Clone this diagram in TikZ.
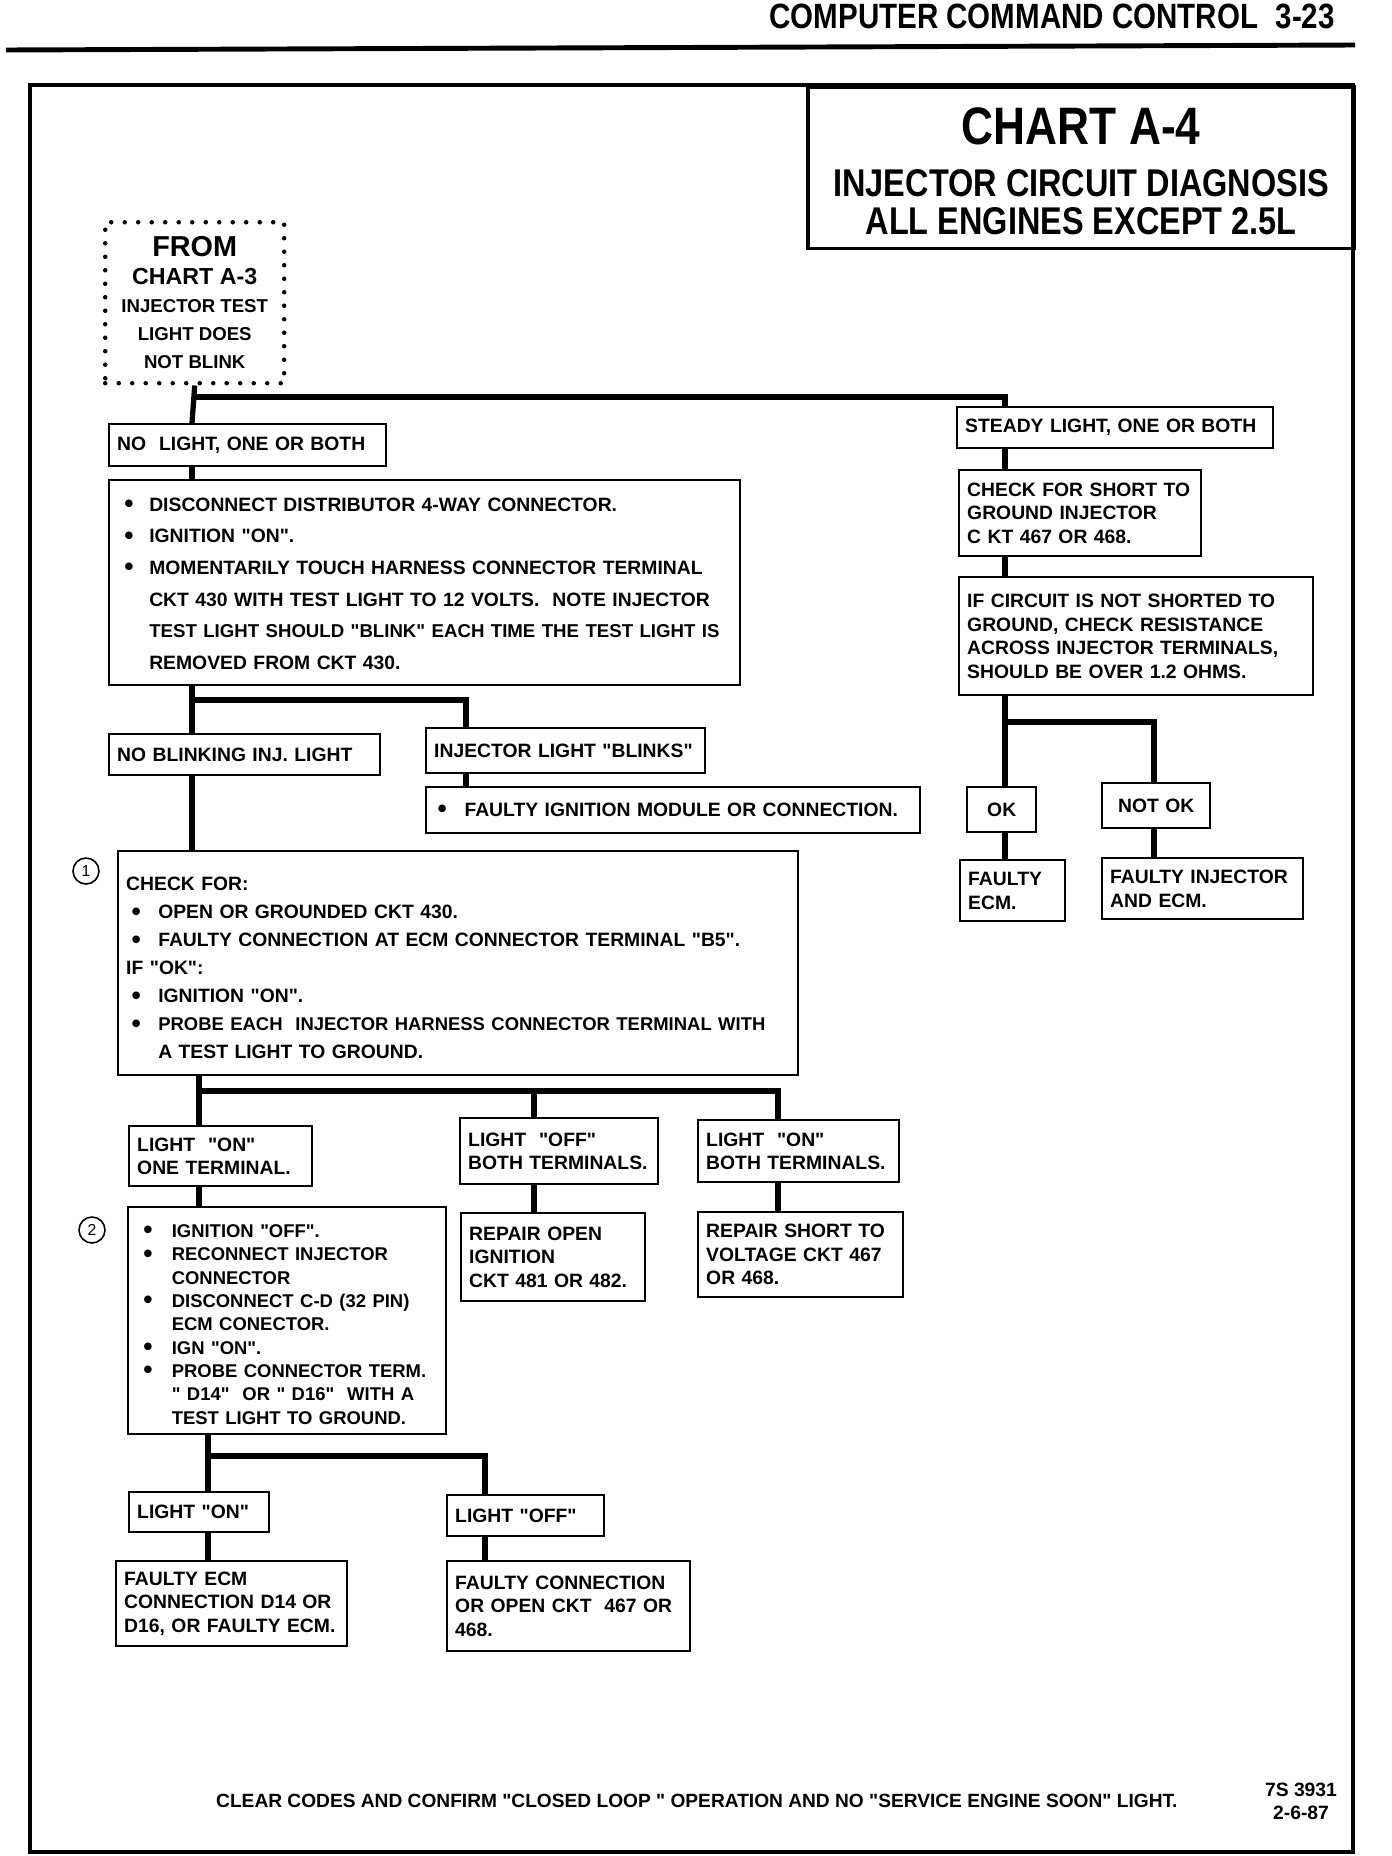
\documentclass[tikz,border=0pt]{standalone}
\usepackage{fontspec}
\setmainfont{Liberation Sans}
\newfontfamily\chartfont{Liberation Sans}
\newfontfamily\condfont{Liberation Sans}[FakeStretch=0.84]
\usepackage{array}
\usetikzlibrary{calc}
\newcommand{\boxfont}{\chartfont\bfseries\fontsize{11}{13.4}\selectfont}
\newcommand{\bul}{\raisebox{-0.12ex}{\fontsize{15}{15}\selectfont\textbullet}}

\begin{document}
\begin{tikzpicture}[x=0.02cm, y=-0.02cm,
  chartbox/.style={draw, line width=1.4pt, anchor=north west,
    inner xsep=0.16cm, inner ysep=0.06cm, align=left, font=\boxfont},
  flow/.style={line width=3pt},
  stepmark/.style={circle, draw, line width=0.9pt, inner sep=0pt,
    minimum size=0.52cm, font=\fontsize{9}{9}\selectfont}]

  \useasboundingbox (0,0) rectangle (1392,1856);

  %% --- Page header and frame ---
  \node[anchor=base east, font=\condfont\bfseries\fontsize{20}{20}\selectfont]
    (header) at (1341,28) {COMPUTER COMMAND CONTROL\hspace{0.5em}3-23};
  \draw[line width=2.8pt] (6,50) -- (1355,45);
  \draw[line width=2pt] (30,85) rectangle (1353,1852);

  %% --- Title block ---
  \node[draw, line width=2pt, anchor=north west, inner sep=0pt,
        minimum width=10.94cm, minimum height=3.24cm] (title) at (806,85)
    {\condfont\bfseries\fontsize{22}{21}\selectfont
     \begin{tabular}{@{}c@{}}
       \rule{0pt}{31pt}{\fontsize{30}{30}\selectfont CHART A-4}\\[7.5pt]
       INJECTOR CIRCUIT DIAGNOSIS\\
       ALL ENGINES EXCEPT 2.5L
     \end{tabular}};

  %% --- Entry point ---
  \node[draw, dash pattern=on 0pt off 0.27cm, line cap=round, line width=0.09cm,
        anchor=north west, inner sep=0pt,
        minimum width=3.58cm, minimum height=3.22cm] (from) at (103,220)
    {\chartfont\bfseries\fontsize{10.6}{16}\selectfont
     \begin{tabular}{@{}c@{}}
       \rule{0pt}{16pt}{\fontsize{16.4}{16}\selectfont FROM}\\
       {\fontsize{13.2}{16}\selectfont CHART A-3}\\
       INJECTOR TEST\\
       LIGHT DOES\\
       NOT BLINK
     \end{tabular}};

  %% --- Left branch ---
  \node[chartbox, text width=5.22cm, minimum height=0.84cm] (nolight) at (108,423)
    {NO\ \ LIGHT, ONE OR BOTH};
  \node[chartbox, text width=12.30cm, minimum height=4.10cm] (disc) at (108,479)
    {\renewcommand{\arraystretch}{1.34}%
     \begin{tabular}{@{\hspace{4pt}}l@{\hspace{9pt}}l@{}}
       \rule{0pt}{14pt}\bul & DISCONNECT DISTRIBUTOR 4-WAY CONNECTOR.\\
       \bul & IGNITION "ON".\\
       \bul & MOMENTARILY TOUCH HARNESS CONNECTOR TERMINAL\\
            & CKT 430 WITH TEST LIGHT TO 12 VOLTS.\ \ NOTE INJECTOR\\
            & {\fontsize{10.6}{13.4}\selectfont TEST LIGHT SHOULD "BLINK" EACH TIME THE TEST LIGHT IS}\\
            & REMOVED FROM CKT 430.
     \end{tabular}};
  \node[chartbox, text width=5.10cm, minimum height=0.82cm] (noblink) at (108,733)
    {NO BLINKING INJ. LIGHT};
  \node[chartbox, text width=5.26cm, minimum height=0.90cm] (injblink) at (425,727)
    {INJECTOR LIGHT "BLINKS"};
  \node[chartbox, text width=9.56cm, minimum height=0.92cm] (faultyign) at (425,786)
    {\hspace{2pt}\bul\hspace{10pt}FAULTY IGNITION MODULE OR CONNECTION.};

  \node[stepmark] (mark1) at (86,871) {1};
  \node[chartbox, text width=13.28cm, minimum height=4.48cm] (checkfor) at (117,850)
    {\renewcommand{\arraystretch}{1.19}%
     \begin{tabular}{@{\hspace{3pt}}l@{\hspace{10pt}}l@{}}
       \multicolumn{2}{@{}l}{\rule{0pt}{18pt}CHECK FOR:}\\
       \bul & OPEN OR GROUNDED CKT 430.\\
       \bul & FAULTY CONNECTION AT ECM CONNECTOR TERMINAL "B5".\\
       \multicolumn{2}{@{}l}{IF "OK":}\\
       \bul & IGNITION "ON".\\
       \bul & {\fontsize{10.5}{13.4}\selectfont PROBE EACH\ \ INJECTOR HARNESS CONNECTOR TERMINAL WITH}\\
            & A TEST LIGHT TO GROUND.
     \end{tabular}};

  \node[chartbox, text width=3.34cm, minimum height=1.20cm] (onone) at (128,1125)
    {LIGHT\ \ "ON"\\ONE TERMINAL.};
  \node[chartbox, text width=3.64cm, minimum height=1.32cm] (offboth) at (459,1117)
    {LIGHT\ \ "OFF"\\BOTH TERMINALS.};
  \node[chartbox, text width=3.70cm, minimum height=1.24cm] (onboth) at (697,1119)
    {LIGHT\ \ "ON"\\BOTH TERMINALS.};
  \node[chartbox, text width=3.36cm, minimum height=1.76cm] (repopen) at (460,1212)
    {REPAIR OPEN\\IGNITION\\CKT 481 OR 482.};
  \node[chartbox, text width=3.78cm, minimum height=1.70cm] (repshort) at (697,1211)
    {REPAIR SHORT TO\\VOLTAGE CKT 467\\OR 468.};

  \node[stepmark] (mark2) at (92,1230) {2};
  \node[chartbox, text width=6.04cm, minimum height=4.54cm] (ignoff) at (127,1206)
    {\fontsize{10.5}{13.4}\selectfont\renewcommand{\arraystretch}{0.99}%
     \begin{tabular}{@{\hspace{4pt}}l@{\hspace{11pt}}l@{}}
       \rule{0pt}{15.5pt}\bul & IGNITION "OFF".\\
       \bul & RECONNECT INJECTOR\\
            & CONNECTOR\\
       \bul & DISCONNECT C-D (32 PIN)\\
            & ECM CONECTOR.\\
       \bul & IGN "ON".\\
       \bul & PROBE CONNECTOR TERM.\\
            & " D14"\ \ OR " D16"\ \ WITH A\\
            & TEST LIGHT TO GROUND.
     \end{tabular}};

  \node[chartbox, text width=2.48cm, minimum height=0.80cm] (lighton) at (128,1491)
    {LIGHT "ON"};
  \node[chartbox, text width=2.82cm, minimum height=0.82cm] (lightoff) at (446,1494)
    {LIGHT "OFF"};
  \node[chartbox, text width=4.30cm, minimum height=1.70cm] (faultyecmb) at (115,1560)
    {FAULTY ECM\\CONNECTION D14 OR\\D16, OR FAULTY ECM.};
  \node[chartbox, text width=4.54cm, minimum height=1.80cm] (faultycon) at (446,1560)
    {FAULTY CONNECTION\\OR OPEN CKT\ \ 467 OR\\468.};

  %% --- Right branch ---
  \node[chartbox, text width=6.00cm, minimum height=0.82cm] (steady) at (956,406)
    {STEADY LIGHT, ONE OR BOTH};
  \node[chartbox, text width=4.52cm, minimum height=1.72cm] (shortgnd) at (958,469)
    {CHECK FOR SHORT TO\\GROUND INJECTOR\\C KT 467 OR 468.};
  \node[chartbox, text width=6.76cm, minimum height=2.36cm] (ifcircuit) at (958,576)
    {IF CIRCUIT IS NOT SHORTED TO\\GROUND, CHECK RESISTANCE\\ACROSS INJECTOR TERMINALS,\\SHOULD BE OVER 1.2 OHMS.};
  \node[chartbox, align=center, text width=1.06cm, minimum height=0.90cm] (ok) at (966,786)
    {OK};
  \node[chartbox, align=center, text width=1.84cm, minimum height=0.90cm] (notok) at (1101,782)
    {NOT OK};
  \node[chartbox, text width=1.78cm, minimum height=1.22cm] (faultyecm) at (959,859)
    {FAULTY\\ECM.};
  \node[chartbox, text width=3.70cm, minimum height=1.22cm] (faultyinj) at (1101,857)
    {FAULTY INJECTOR\\AND ECM.};

  %% --- Footer ---
  \node[anchor=base west, font=\chartfont\bfseries\fontsize{10.9}{12}\selectfont]
    (footer) at (210,1807)
    {CLEAR CODES AND CONFIRM "CLOSED LOOP " OPERATION AND NO "SERVICE ENGINE SOON" LIGHT.};
  \node[anchor=base, font=\chartfont\bfseries\fontsize{11}{13}\selectfont]
    (figref) at (1301,1808)
    {\begin{tabular}{@{}c@{}}7S 3931\\2-6-87\end{tabular}};

  %% --- Branch points ---
  \coordinate (trunkA) at (192,397);
  \coordinate (trunkR) at (1005,397);
  \coordinate (blinkx) at (466,700);
  \coordinate (trunkB) at (199,1091);
  \coordinate (midx) at (534,1091);
  \coordinate (rightx) at (778,1091);
  \coordinate (trunkC) at (208,1456);
  \coordinate (offx) at (485,1456);
  \coordinate (okx) at (1005,722);
  \coordinate (notokx) at (1154,722);

  %% --- Connectors, left side ---
  \draw[flow] (from.south) -- (trunkA |- nolight.north);
  \draw[flow] (trunkA) -| (trunkR |- steady.north);
  \draw[flow] (trunkA |- nolight.south) -- (trunkA |- disc.north);
  \draw[flow] (trunkA |- disc.south) -- (trunkA |- noblink.north);
  \draw[flow] (trunkA |- blinkx) -| (blinkx |- injblink.north);
  \draw[flow] (blinkx |- injblink.south) -- (blinkx |- faultyign.north);
  \draw[flow] (trunkA |- noblink.south) -- (trunkA |- checkfor.north);
  \draw[flow] (trunkB |- checkfor.south) -- (trunkB |- onone.north);
  \draw[flow] (trunkB) -| (rightx |- onboth.north);
  \draw[flow] (midx) -- (midx |- offboth.north);
  \draw[flow] (midx |- offboth.south) -- (midx |- repopen.north);
  \draw[flow] (rightx |- onboth.south) -- (rightx |- repshort.north);
  \draw[flow] (trunkB |- onone.south) -- (trunkB |- ignoff.north);
  \draw[flow] (trunkC |- ignoff.south) -- (trunkC |- lighton.north);
  \draw[flow] (trunkC) -| (offx |- lightoff.north);
  \draw[flow] (trunkC |- lighton.south) -- (trunkC |- faultyecmb.north);
  \draw[flow] (offx |- lightoff.south) -- (offx |- faultycon.north);

  %% --- Connectors, right side ---
  \draw[flow] (trunkR |- steady.south) -- (trunkR |- shortgnd.north);
  \draw[flow] (trunkR |- shortgnd.south) -- (trunkR |- ifcircuit.north);
  \draw[flow] (trunkR |- ifcircuit.south) -- (trunkR |- ok.north);
  \draw[flow] (okx) -| (notokx |- notok.north);
  \draw[flow] (trunkR |- ok.south) -- (trunkR |- faultyecm.north);
  \draw[flow] (notokx |- notok.south) -- (notokx |- faultyinj.north);
\end{tikzpicture}
\end{document}
